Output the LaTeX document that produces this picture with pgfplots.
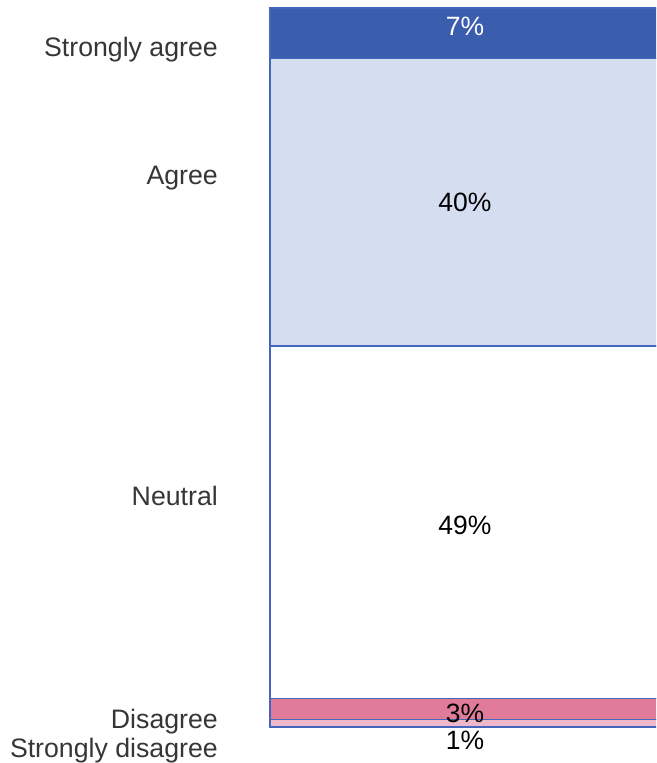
\documentclass[border=0pt]{standalone}
\usepackage{pgfplots}
\pgfplotsset{compat=1.18}
\usepackage{fontspec}
\setmainfont{Liberation Sans}

\definecolor{sagree}{HTML}{3A5DAE}
\definecolor{agree}{HTML}{D5DDF0}
\definecolor{neutral}{HTML}{FFFFFF}
\definecolor{disagree}{HTML}{E07C9A}
\definecolor{sdisagree}{HTML}{F0B9CB}
\definecolor{edge}{HTML}{4466BC}
\definecolor{lab}{HTML}{363636}

\tikzset{pct/.style={font=\fontsize{26.5}{30}\selectfont}}

\begin{document}
\begin{tikzpicture}
  \path[use as bounding box] (0,0) rectangle (656pt,763pt);
  \clip (0,0) rectangle (656pt,763pt);
  \begin{axis}[
      at={(270pt,7.2pt)}, anchor=south west,
      scale only axis, width=390pt, height=747.8pt,
      xmin=0, xmax=1, ymin=-4, ymax=100,
      clip=false,
      ybar stacked, bar width=1,
      axis x line=none, axis y line*=left,
      y axis line style={draw=none},
      major tick length=0pt,
      xtick=\empty,
      ytick={-3.3,0.7,32.15,76.4,94.2},
      yticklabels={Strongly disagree,Disagree,Neutral,Agree,Strongly agree},
      yticklabel style={font=\fontsize{26.7}{30}\selectfont, text=lab, inner sep=0pt, xshift=-52pt},
    ]
    \addplot[draw=edge, line width=1.2pt, fill=sdisagree] coordinates {(0.5,1)};
    \addplot[draw=edge, line width=1.2pt, fill=disagree] coordinates {(0.5,3)};
    \addplot[draw=edge, line width=1.2pt, fill=neutral] coordinates {(0.5,49)};
    \addplot[draw=edge, line width=1.2pt, fill=agree] coordinates {(0.5,40)};
    \addplot[draw=edge, line width=1.2pt, fill=sagree] coordinates {(0.5,7)};
    \coordinate (p7) at (axis cs:0.5,97.4);
    \coordinate (p40) at (axis cs:0.5,73.0);
    \coordinate (p49) at (axis cs:0.5,28.1);
    \coordinate (p3) at (axis cs:0.5,1.95);
    \coordinate (p1) at (axis cs:0.5,-1.8);
  \end{axis}
  \node[pct, text=white] at (p7) {7\%};
  \node[pct] at (p40) {40\%};
  \node[pct] at (p49) {49\%};
  \node[pct] at (p3) {3\%};
  \node[pct] at (p1) {1\%};
\end{tikzpicture}
\end{document}
